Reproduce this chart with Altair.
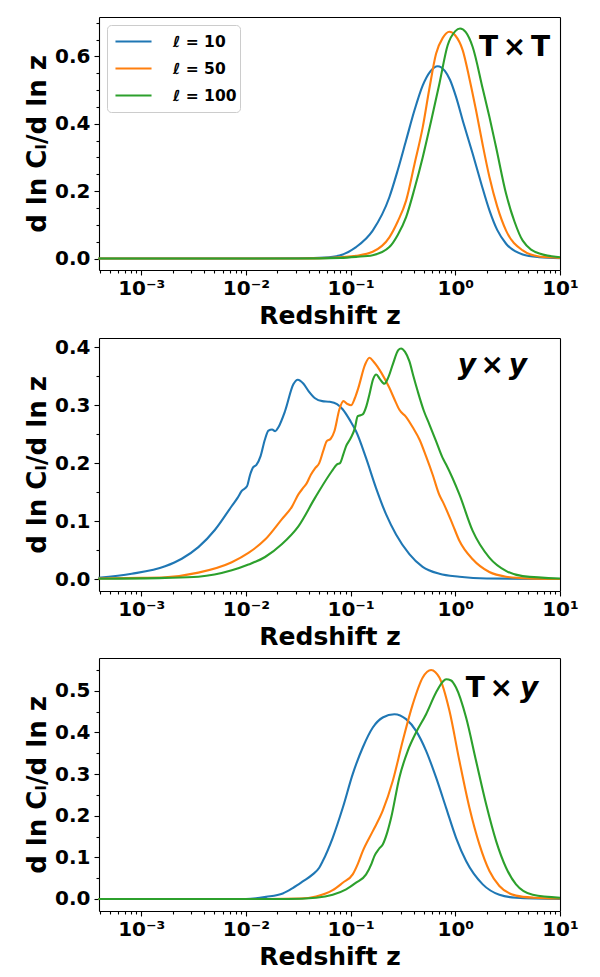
import altair as alt
import pandas as pd

FONT = "DejaVu Sans"
SERIES = ["ℓ = 10", "ℓ = 50", "ℓ = 100"]
COLORS = ["#1f77b4", "#ff7f0e", "#2ca02c"]
PANEL_LABELS = ["T\u2006×\u2006T", "y\u2006×\u2006y", "T\u2006×", "y"]
X_TITLE = "Redshift z"
Y_TITLE = "d ln Cₗ/d ln z"

# ---------------- Panel 1: T x T  (log10 z, value) ----------------
tt10_logz = [-3.409, -2.0, -1.5, -1.25, -1.107, -0.948, -0.789, -0.63, -0.55, -0.47, -0.39, -0.311,
             -0.24, -0.168, -0.1, -0.05, 0.007, 0.08, 0.166, 0.25, 0.326, 0.40, 0.485, 0.644, 0.8, 1.0]
tt10_val = [0.0, 0.0, 0.001, 0.003, 0.009, 0.034, 0.083, 0.182, 0.262, 0.351, 0.44, 0.514,
            0.555, 0.571, 0.557, 0.53, 0.48, 0.40, 0.311, 0.22, 0.143, 0.085, 0.044, 0.012, 0.004, 0.001]

tt50_logz = [-3.409, -1.5, -1.2, -0.948, -0.789, -0.63, -0.55, -0.47, -0.39, -0.311, -0.248, -0.184,
             -0.12, -0.057, 0.0, 0.071, 0.135, 0.198, 0.26, 0.326, 0.40, 0.485, 0.644, 0.8, 1.0]
tt50_val = [0.0, 0.0, 0.002, 0.008, 0.02, 0.063, 0.11, 0.172, 0.28, 0.39, 0.504, 0.608,
            0.655, 0.673, 0.662, 0.618, 0.534, 0.44, 0.34, 0.242, 0.155, 0.083, 0.024, 0.006, 0.002]

tt100_logz = [-3.409, -1.5, -1.1, -0.948, -0.789, -0.63, -0.55, -0.47, -0.39, -0.311, -0.23, -0.152,
              -0.073, 0.0, 0.045, 0.1, 0.166, 0.262, 0.326, 0.389, 0.485, 0.565, 0.644, 0.803, 1.0]
tt100_val = [0.0, 0.0, 0.002, 0.005, 0.01, 0.034, 0.07, 0.123, 0.207, 0.301, 0.41, 0.519,
             0.633, 0.675, 0.683, 0.672, 0.628, 0.504, 0.42, 0.331, 0.192, 0.11, 0.053, 0.015, 0.004]

# ---------------- Panel 2: y x y ----------------
yy10_logz = [-3.409, -3.091, -2.772, -2.613, -2.454, -2.295, -2.135, -2.08, -2.04, -1.99, -1.96, -1.93,
             -1.90, -1.86, -1.82, -1.785, -1.75, -1.72, -1.69, -1.626, -1.547, -1.505, -1.45, -1.40,
             -1.34, -1.27, -1.203, -1.13, -1.076, -1.0, -0.948, -0.853, -0.757, -0.662, -0.566,
             -0.439, -0.312, -0.152, 0.039, 0.3, 1.0]
yy10_val = [0.002, 0.009, 0.022, 0.035, 0.055, 0.085, 0.126, 0.140, 0.152, 0.160, 0.180, 0.193,
            0.197, 0.212, 0.240, 0.256, 0.258, 0.255, 0.262, 0.290, 0.336, 0.344, 0.337, 0.324,
            0.312, 0.307, 0.306, 0.302, 0.293, 0.272, 0.255, 0.209, 0.157, 0.112, 0.077,
            0.043, 0.021, 0.009, 0.004, 0.001, 0.0]

yy50_logz = [-3.409, -3.0, -2.772, -2.454, -2.135, -1.976, -1.817, -1.658, -1.56, -1.499, -1.45, -1.42,
             -1.38, -1.34, -1.30, -1.26, -1.228, -1.19, -1.155, -1.107, -1.069, -1.03, -0.996,
             -0.96, -0.926, -0.862, -0.82, -0.78, -0.703, -0.63, -0.566, -0.534, -0.471, -0.407,
             -0.34, -0.28, -0.216, -0.152, -0.121, -0.025, 0.039, 0.166, 0.325, 0.484, 0.7, 1.0]
yy50_val = [0.001, 0.002, 0.003, 0.011, 0.029, 0.045, 0.068, 0.103, 0.125, 0.146, 0.158, 0.165,
            0.180, 0.191, 0.200, 0.222, 0.238, 0.242, 0.255, 0.293, 0.307, 0.302, 0.300,
            0.312, 0.330, 0.370, 0.382, 0.375, 0.355, 0.330, 0.304, 0.292, 0.280, 0.262,
            0.240, 0.212, 0.180, 0.145, 0.134, 0.094, 0.066, 0.034, 0.012, 0.004, 0.001, 0.0]

yy100_logz = [-3.409, -2.772, -2.454, -2.135, -1.976, -1.817, -1.658, -1.499, -1.34, -1.18, -1.13,
              -1.101, -1.07, -1.044, -1.0, -0.96, -0.932, -0.885, -0.85, -0.821, -0.785, -0.755,
              -0.72, -0.678, -0.64, -0.598, -0.545, -0.518, -0.48, -0.439, -0.40, -0.359, -0.30,
              -0.248, -0.184, -0.121, -0.089, 0.039, 0.166, 0.325, 0.484, 0.644, 1.0]
yy100_val = [0.0005, 0.002, 0.004, 0.015, 0.025, 0.038, 0.06, 0.091, 0.14, 0.186, 0.198,
             0.200, 0.215, 0.229, 0.243, 0.26, 0.281, 0.284, 0.298, 0.318, 0.345, 0.353,
             0.345, 0.337, 0.348, 0.370, 0.395, 0.398, 0.392, 0.376, 0.35, 0.324, 0.29,
             0.267, 0.238, 0.209, 0.198, 0.146, 0.083, 0.037, 0.014, 0.005, 0.001]

# ---------------- Panel 3: T x y ----------------
ty10_logz = [-3.409, -2.0, -1.807, -1.648, -1.553, -1.457, -1.362, -1.3, -1.266, -1.171, -1.075,
             -0.98, -0.884, -0.788, -0.693, -0.582, -0.47, -0.375, -0.279, -0.184, -0.088, 0.007,
             0.103, 0.262, 0.421, 0.58, 1.0]
ty10_val = [0.0, 0.0, 0.005, 0.013, 0.026, 0.042, 0.059, 0.075, 0.091, 0.147, 0.219,
            0.3, 0.364, 0.412, 0.436, 0.444, 0.432, 0.404, 0.356, 0.292, 0.219, 0.147,
            0.091, 0.035, 0.01, 0.003, 0.0]

ty50_logz = [-3.409, -1.8, -1.489, -1.33, -1.171, -1.075, -0.98, -0.93, -0.884, -0.788, -0.693,
             -0.597, -0.502, -0.406, -0.311, -0.231, -0.19, -0.152, -0.056, 0.039, 0.135, 0.23,
             0.326, 0.421, 0.58, 0.75, 1.0]
ty50_val = [0.0, 0.0, 0.001, 0.006, 0.021, 0.039, 0.059, 0.085, 0.115, 0.163, 0.212,
            0.284, 0.38, 0.468, 0.532, 0.550, 0.545, 0.532, 0.452, 0.332, 0.219, 0.131,
            0.067, 0.031, 0.008, 0.003, 0.001]

ty100_logz = [-3.409, -1.6, -1.33, -1.171, -1.043, -0.948, -0.852, -0.80, -0.773, -0.73, -0.693,
              -0.65, -0.613, -0.534, -0.454, -0.375, -0.279, -0.184, -0.12, -0.088, -0.04, 0.007,
              0.103, 0.198, 0.294, 0.39, 0.485, 0.58, 0.74, 1.0]
ty100_val = [0.0, 0.0, 0.003, 0.01, 0.023, 0.039, 0.059, 0.085, 0.103, 0.12, 0.131,
             0.16, 0.195, 0.292, 0.356, 0.4, 0.444, 0.496, 0.522, 0.528, 0.525, 0.508,
             0.436, 0.332, 0.228, 0.139, 0.075, 0.035, 0.01, 0.003]

X_DOMAIN = [3.95e-4, 10]
Y_DOMAINS = [[-0.034, 0.717], [-0.0207, 0.416], [-0.029, 0.579]]
Y_TICKS = [[i * 0.05 for i in range(15)], [i * 0.05 for i in range(9)], [i * 0.05 for i in range(12)]]
Y_MAJOR_MULT = [5, 10, 10]


def frame(curves):
    rows = []
    for name, logs, vals in curves:
        for i, (lz, v) in enumerate(zip(logs, vals)):
            rows.append({"z": 10 ** lz, "v": v, "series": name, "order": i})
    return pd.DataFrame(rows)


dfs = [
    frame([(SERIES[0], tt10_logz, tt10_val), (SERIES[1], tt50_logz, tt50_val), (SERIES[2], tt100_logz, tt100_val)]),
    frame([(SERIES[0], yy10_logz, yy10_val), (SERIES[1], yy50_logz, yy50_val), (SERIES[2], yy100_logz, yy100_val)]),
    frame([(SERIES[0], ty10_logz, ty10_val), (SERIES[1], ty50_logz, ty50_val), (SERIES[2], ty100_logz, ty100_val)]),
]

x_ticks = [m * 10.0 ** k for k in range(-4, 1) for m in range(1, 10)
           if X_DOMAIN[0] <= m * 10.0 ** k <= X_DOMAIN[1]] + [10.0]
x_major = "abs(log(datum.value)/LN10 - round(log(datum.value)/LN10)) < 1e-6"
x_label = ("(" + x_major + ") ? ['10⁻⁴','10⁻³','10⁻²','10⁻¹','10⁰','10¹']"
           "[round(log(datum.value)/LN10)+4] : ''")


def frame_axis(orient):
    return alt.Axis(orient=orient, domain=True, domainColor="black", domainWidth=1.1,
                    ticks=False, labels=False, title=None, grid=False)


def panel(idx, df):
    mult = Y_MAJOR_MULT[idx]
    y_major = f"abs(datum.value*{mult} - round(datum.value*{mult})) < 1e-6"
    xscale = alt.Scale(type="log", domain=X_DOMAIN, nice=False)
    yscale = alt.Scale(domain=Y_DOMAINS[idx], nice=False, zero=False)
    xaxis = alt.Axis(
        orient="bottom", values=x_ticks, labelExpr=x_label, title=X_TITLE,
        tickSize={"condition": {"test": x_major, "value": 5}, "value": 3},
        tickWidth=1.1, tickColor="black", domain=True, domainColor="black", domainWidth=1.1,
        grid=False,
        labelFont=FONT, labelFontSize=20, labelFontWeight="bold", labelColor="black",
        labelPadding=3, labelOverlap=False, labelFlush=False,
        titleFont=FONT, titleFontSize=25, titleFontWeight="bold", titleColor="black",
        titlePadding=5,
    )
    yaxis = alt.Axis(
        orient="left", values=Y_TICKS[idx], labelExpr=f"({y_major}) ? format(datum.value, '.1f') : ''",
        title=Y_TITLE,
        tickSize={"condition": {"test": y_major, "value": 5}, "value": 3},
        tickWidth=1.1, tickColor="black", domain=True, domainColor="black", domainWidth=1.1,
        grid=False,
        labelFont=FONT, labelFontSize=20, labelFontWeight="bold", labelColor="black",
        labelPadding=4, labelOverlap=False,
        titleFont=FONT, titleFontSize=26, titleFontWeight="bold", titleColor="black",
        titlePadding=4,
    )
    if idx == 0:
        legend = alt.Legend(
            title=None, orient="top-left", offset=8, symbolType="stroke",
            symbolSize=1300, symbolStrokeWidth=2.1, symbolOffset=4, labelFont=FONT, labelFontSize=15.5,
            labelFontWeight="bold", labelColor="black", fillColor="white",
            strokeColor="#cccccc", cornerRadius=4, padding=3, rowPadding=0, clipHeight=27,
            labelOffset=20, labelExpr="datum.label + '\u2002'",
        )
    else:
        legend = None
    lines = alt.Chart(df).mark_line(strokeWidth=2.1, interpolate="monotone").encode(
        x=alt.X("z:Q", scale=xscale, axis=xaxis),
        y=alt.Y("v:Q", scale=yscale, axis=yaxis),
        color=alt.Color("series:N", scale=alt.Scale(domain=SERIES, range=COLORS), legend=legend),
        order="order:Q",
    )
    border = alt.Chart(df).mark_point(opacity=0).encode(
        x=alt.X("z:Q", scale=xscale, axis=frame_axis("top")),
        y=alt.Y("v:Q", scale=yscale, axis=frame_axis("right")),
    )
    layers = [lines, border]
    if idx == 0:
        layers.append(alt.Chart(pd.DataFrame({"t": [PANEL_LABELS[0]]})).mark_text(
            font=FONT, fontSize=28, fontWeight="bold", align="right", baseline="alphabetic", color="black"
        ).encode(text="t:N", x=alt.value(451), y=alt.value(39)))
    elif idx == 1:
        layers.append(alt.Chart(pd.DataFrame({"t": [PANEL_LABELS[1]]})).mark_text(
            font=FONT, fontSize=28, fontWeight="bold", fontStyle="italic", align="right",
            baseline="alphabetic", color="black"
        ).encode(text="t:N", x=alt.value(428), y=alt.value(36)))
    else:
        layers.append(alt.Chart(pd.DataFrame({"t": [PANEL_LABELS[2]]})).mark_text(
            font=FONT, fontSize=28, fontWeight="bold", align="right", baseline="alphabetic", color="black"
        ).encode(text="t:N", x=alt.value(414), y=alt.value(39)))
        layers.append(alt.Chart(pd.DataFrame({"t": [PANEL_LABELS[3]]})).mark_text(
            font=FONT, fontSize=28, fontWeight="bold", fontStyle="italic", align="left",
            baseline="alphabetic", color="black"
        ).encode(text="t:N", x=alt.value(421), y=alt.value(39)))
    return alt.layer(*layers).resolve_axis(x="independent", y="independent").properties(
        width=461, height=253)


chart = alt.vconcat(*[panel(i, d) for i, d in enumerate(dfs)], spacing=7).resolve_scale(
    x="independent", y="independent", color="independent"
).properties(
    padding={"left": 16, "top": 4, "right": 5, "bottom": 0}
).configure_view(
    strokeWidth=0
).configure(background="white")

chart.save("out.html", embed_options={"renderer": "svg", "actions": False})
